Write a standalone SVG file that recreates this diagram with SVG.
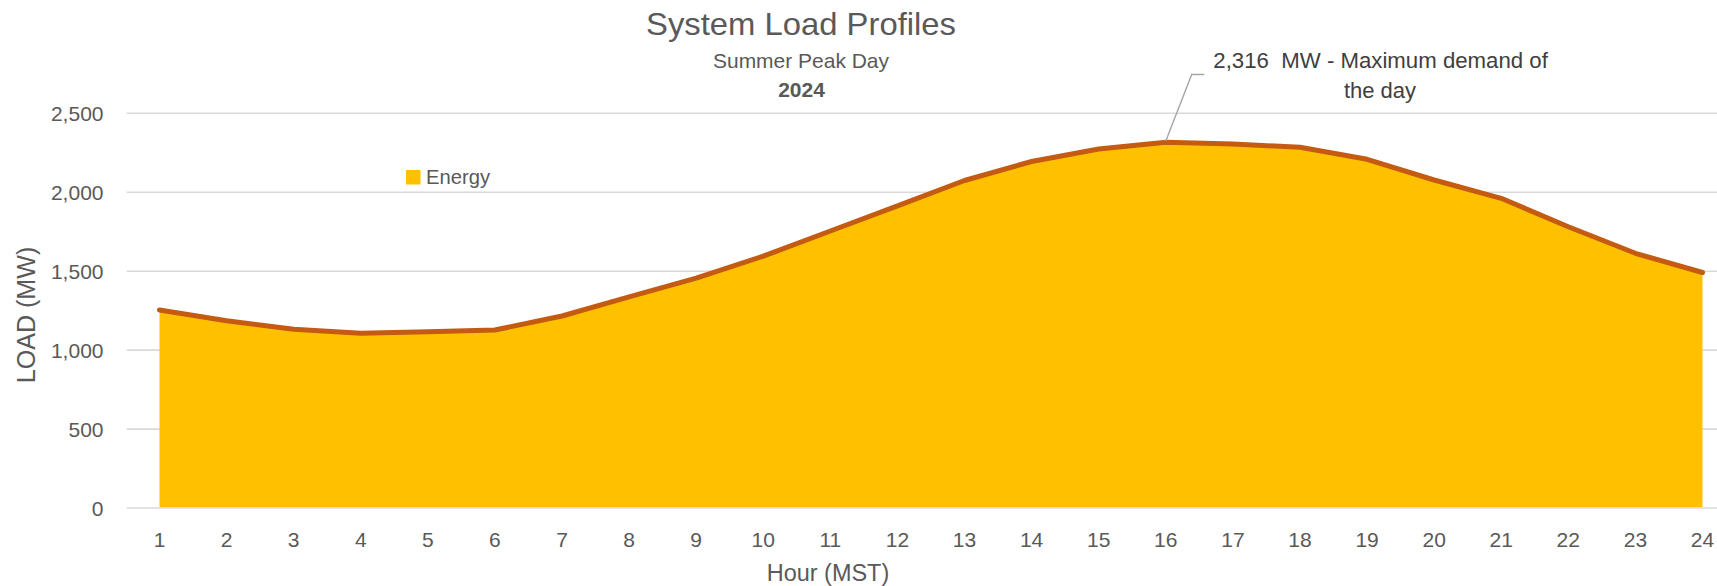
<svg xmlns="http://www.w3.org/2000/svg" width="1717" height="586" viewBox="0 0 1717 586">
  <style>
    text { font-family: "Liberation Sans", Arial, sans-serif; fill: #595959; }
    .tick { font-size: 21px; }
    .ylab { text-anchor: end; }
    .xlab { text-anchor: middle; }
    .grid { stroke: #D9D9D9; stroke-width: 1.6; fill: none; }
    .ann { font-size: 22px; fill: #404040; text-anchor: middle; }
  </style>
  <rect x="0" y="0" width="1717" height="586" fill="#FFFFFF"/>

  <g id="title">
    <text x="801" y="35" font-size="32" text-anchor="middle" textLength="310" lengthAdjust="spacingAndGlyphs">System Load Profiles</text>
    <text x="801" y="68.3" font-size="21" text-anchor="middle" textLength="176" lengthAdjust="spacingAndGlyphs">Summer Peak Day</text>
    <text x="801.5" y="96.7" font-size="21" font-weight="bold" text-anchor="middle">2024</text>
  </g>

  <g id="gridlines">
    <line class="grid" x1="126.7" y1="113.3" x2="1717" y2="113.3"/>
    <line class="grid" x1="126.7" y1="192.2" x2="1717" y2="192.2"/>
    <line class="grid" x1="126.7" y1="271.2" x2="1717" y2="271.2"/>
    <line class="grid" x1="126.7" y1="350.1" x2="1717" y2="350.1"/>
    <line class="grid" x1="126.7" y1="429.1" x2="1717" y2="429.1"/>
  </g>

  <g id="series-energy">
    <polygon fill="#FFC000" points="159.5,507 159.5,310 226.6,320.7 293.7,329.3 360.8,333.3 427.8,331.7 494.9,330 562,316 629.1,296.8 696.2,278.1 763.3,256.2 830.4,231 897.5,205.9 964.5,180.5 1031.6,161.5 1098.7,149 1165.8,142.3 1232.9,144 1300,147.3 1367.1,159.3 1434.2,180 1501.2,198.3 1568.3,226.7 1635.4,253.3 1702.5,272.5 1702.5,507"/>
    <polyline fill="none" stroke="#C55A11" stroke-width="5" stroke-linecap="round" stroke-linejoin="round" points="159.5,310 226.6,320.7 293.7,329.3 360.8,333.3 427.8,331.7 494.9,330 562,316 629.1,296.8 696.2,278.1 763.3,256.2 830.4,231 897.5,205.9 964.5,180.5 1031.6,161.5 1098.7,149 1165.8,142.3 1232.9,144 1300,147.3 1367.1,159.3 1434.2,180 1501.2,198.3 1568.3,226.7 1635.4,253.3 1702.5,272.5"/>
  </g>

  <g id="x-axis">
    <line class="grid" x1="126.7" y1="508" x2="1717" y2="508"/>
    <g class="tick xlab">
      <text x="159.5" y="546.5">1</text>
      <text x="226.6" y="546.5">2</text>
      <text x="293.7" y="546.5">3</text>
      <text x="360.8" y="546.5">4</text>
      <text x="427.8" y="546.5">5</text>
      <text x="494.9" y="546.5">6</text>
      <text x="562" y="546.5">7</text>
      <text x="629.1" y="546.5">8</text>
      <text x="696.2" y="546.5">9</text>
      <text x="763.3" y="546.5">10</text>
      <text x="830.4" y="546.5">11</text>
      <text x="897.5" y="546.5">12</text>
      <text x="964.5" y="546.5">13</text>
      <text x="1031.6" y="546.5">14</text>
      <text x="1098.7" y="546.5">15</text>
      <text x="1165.8" y="546.5">16</text>
      <text x="1232.9" y="546.5">17</text>
      <text x="1300" y="546.5">18</text>
      <text x="1367.1" y="546.5">19</text>
      <text x="1434.2" y="546.5">20</text>
      <text x="1501.2" y="546.5">21</text>
      <text x="1568.3" y="546.5">22</text>
      <text x="1635.4" y="546.5">23</text>
      <text x="1702.5" y="546.5">24</text>
    </g>
    <text x="828" y="581" font-size="23.5" text-anchor="middle" textLength="122.5" lengthAdjust="spacingAndGlyphs">Hour (MST)</text>
  </g>

  <g id="y-axis">
    <g class="tick ylab">
      <text x="103.5" y="515.5">0</text>
      <text x="103.5" y="436.6">500</text>
      <text x="103.5" y="357.6">1,000</text>
      <text x="103.5" y="278.7">1,500</text>
      <text x="103.5" y="199.7">2,000</text>
      <text x="103.5" y="120.8">2,500</text>
    </g>
    <text x="35" y="315" font-size="25" text-anchor="middle" transform="rotate(-90 35 315)" textLength="136.6" lengthAdjust="spacingAndGlyphs">LOAD (MW)</text>
  </g>

  <g id="legend">
    <rect x="406" y="170" width="14.5" height="14.5" fill="#FFC000"/>
    <text x="426" y="183.5" font-size="20" textLength="64" lengthAdjust="spacingAndGlyphs">Energy</text>
  </g>

  <g id="connectors">
    <polyline fill="none" stroke="#A6A6A6" stroke-width="1.4" points="1165.8,141 1191.7,74.5 1204.3,74.5"/>
  </g>

  <g id="annotation-peak">
    <text class="ann" x="1380.6" y="68.3" textLength="334.6" lengthAdjust="spacingAndGlyphs">2,316&#160; MW - Maximum demand of</text>
    <text class="ann" x="1380" y="98.3">the day</text>
  </g>
</svg>
